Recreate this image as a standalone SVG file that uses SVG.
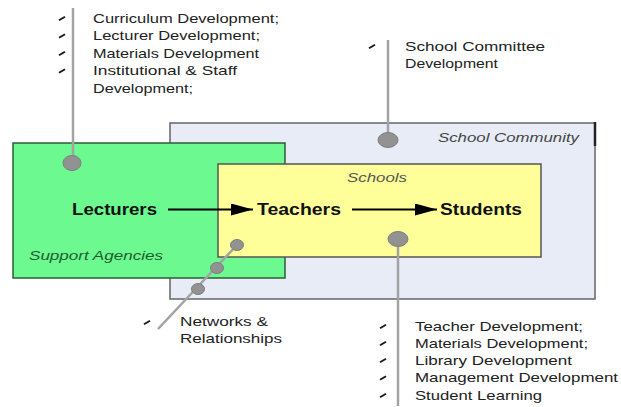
<svg xmlns="http://www.w3.org/2000/svg" width="621" height="407" viewBox="0 0 621 407">
  <style>
    .note { font-family: "Liberation Sans", Arial, sans-serif; font-size: 13px; fill: #222; }
    .actor { font-family: "Liberation Sans", Arial, sans-serif; font-size: 16px; font-weight: bold; fill: #111; }
    .area { font-family: "Liberation Sans", Arial, sans-serif; font-size: 13px; font-style: italic; }
    .pin { stroke: #a3a3a3; stroke-width: 2.5; fill: none; }
    .dot { fill: #929292; stroke: #7d7d7d; stroke-width: 1; }
    .flow { stroke: #000; stroke-width: 2; fill: none; }
  </style>
  <defs>
    <path id="bullet" d="M-3.5,1.5 L2.5,-2 L3.5,-0.5 L-2.5,3 Z" fill="#1a1a1a"/>
    <marker id="head" markerUnits="userSpaceOnUse" markerWidth="24" markerHeight="12" refX="22" refY="6" orient="auto">
      <path d="M0,0 L22,6 L0,12 Z" fill="#000"/>
    </marker>
  </defs>

  <rect width="621" height="407" fill="#fff"/>

  <!-- outer community area -->
  <g id="school-community">
    <rect x="170" y="123" width="425" height="176" fill="#e8ecf6" stroke="#666" stroke-width="1.5"/>
    <line x1="595" y1="122" x2="595" y2="146" stroke="#222" stroke-width="2.5"/>
    <text class="area" x="438" y="142" fill="#444" textLength="141" lengthAdjust="spacingAndGlyphs">School Community</text>
  </g>

  <!-- support agencies area -->
  <g id="support-agencies">
    <rect x="13" y="143" width="272" height="135" fill="#6cf990" stroke="#2b5e35" stroke-width="1.5"/>
    <text class="area" x="29" y="260" fill="#1e5e2c" textLength="134" lengthAdjust="spacingAndGlyphs">Support Agencies</text>
  </g>

  <!-- schools area -->
  <g id="schools">
    <rect x="218" y="164" width="323" height="93" fill="#ffff99" stroke="#555" stroke-width="1.5"/>
    <text class="area" x="347" y="182" fill="#555" textLength="60" lengthAdjust="spacingAndGlyphs">Schools</text>
  </g>

  <g id="lecturers">
    <text class="actor" x="72" y="215" textLength="85" lengthAdjust="spacingAndGlyphs">Lecturers</text>
  </g>
  <g id="teachers">
    <text class="actor" x="257" y="215" textLength="84" lengthAdjust="spacingAndGlyphs">Teachers</text>
  </g>
  <g id="students">
    <text class="actor" x="440" y="215" textLength="82" lengthAdjust="spacingAndGlyphs">Students</text>
  </g>

  <!-- flow arrows and callout pins -->
  <g id="connectors">
    <line class="flow" x1="168" y1="209.5" x2="253" y2="209.5" marker-end="url(#head)"/>
    <line class="flow" x1="352" y1="209.5" x2="437" y2="209.5" marker-end="url(#head)"/>

    <line class="pin" x1="73" y1="8" x2="73" y2="160"/>
    <ellipse class="dot" cx="72" cy="163" rx="9" ry="7.5"/>

    <line class="pin" x1="388" y1="40" x2="388" y2="137"/>
    <ellipse class="dot" cx="388" cy="140" rx="10" ry="7.5"/>

    <line class="pin" x1="398" y1="242" x2="398" y2="406"/>
    <ellipse class="dot" cx="398" cy="239" rx="10" ry="7.5"/>

    <line class="pin" x1="237" y1="245" x2="158" y2="329" stroke-width="2"/>
    <ellipse class="dot" cx="237" cy="245" rx="6.5" ry="5.5"/>
    <ellipse class="dot" cx="217" cy="268" rx="6.5" ry="5.5"/>
    <ellipse class="dot" cx="198" cy="289" rx="6.5" ry="5.5"/>
  </g>

  <!-- lecturer support notes -->
  <g id="notes-lecturers">
    <use href="#bullet" x="62" y="18"/>
    <use href="#bullet" x="62" y="35.5"/>
    <use href="#bullet" x="62" y="53"/>
    <use href="#bullet" x="62" y="70.5"/>
    <text class="note" x="93" y="22.5" textLength="186" lengthAdjust="spacingAndGlyphs">Curriculum Development;</text>
    <text class="note" x="93" y="40" textLength="167" lengthAdjust="spacingAndGlyphs">Lecturer Development;</text>
    <text class="note" x="93" y="57.5" textLength="166" lengthAdjust="spacingAndGlyphs">Materials Development</text>
    <text class="note" x="93" y="75" textLength="144" lengthAdjust="spacingAndGlyphs">Institutional &amp; Staff</text>
    <text class="note" x="93" y="92.5" textLength="100" lengthAdjust="spacingAndGlyphs">Development;</text>
  </g>

  <!-- community notes -->
  <g id="notes-community">
    <use href="#bullet" x="372" y="46"/>
    <text class="note" x="405" y="51" textLength="140" lengthAdjust="spacingAndGlyphs">School Committee</text>
    <text class="note" x="405" y="68" textLength="93" lengthAdjust="spacingAndGlyphs">Development</text>
  </g>

  <!-- network notes -->
  <g id="notes-networks">
    <use href="#bullet" x="147" y="322"/>
    <text class="note" x="180" y="326" textLength="88" lengthAdjust="spacingAndGlyphs">Networks &amp;</text>
    <text class="note" x="180" y="343" textLength="102" lengthAdjust="spacingAndGlyphs">Relationships</text>
  </g>

  <!-- school notes -->
  <g id="notes-schools">
    <use href="#bullet" x="383" y="326"/>
    <use href="#bullet" x="383" y="343"/>
    <use href="#bullet" x="383" y="360"/>
    <use href="#bullet" x="383" y="377.5"/>
    <use href="#bullet" x="383" y="395"/>
    <text class="note" x="415" y="330.5" textLength="168" lengthAdjust="spacingAndGlyphs">Teacher Development;</text>
    <text class="note" x="415" y="347.5" textLength="173" lengthAdjust="spacingAndGlyphs">Materials Development;</text>
    <text class="note" x="415" y="364.5" textLength="157" lengthAdjust="spacingAndGlyphs">Library Development</text>
    <text class="note" x="415" y="382" textLength="203" lengthAdjust="spacingAndGlyphs">Management Development</text>
    <text class="note" x="415" y="399.5" textLength="127" lengthAdjust="spacingAndGlyphs">Student Learning</text>
  </g>
</svg>
